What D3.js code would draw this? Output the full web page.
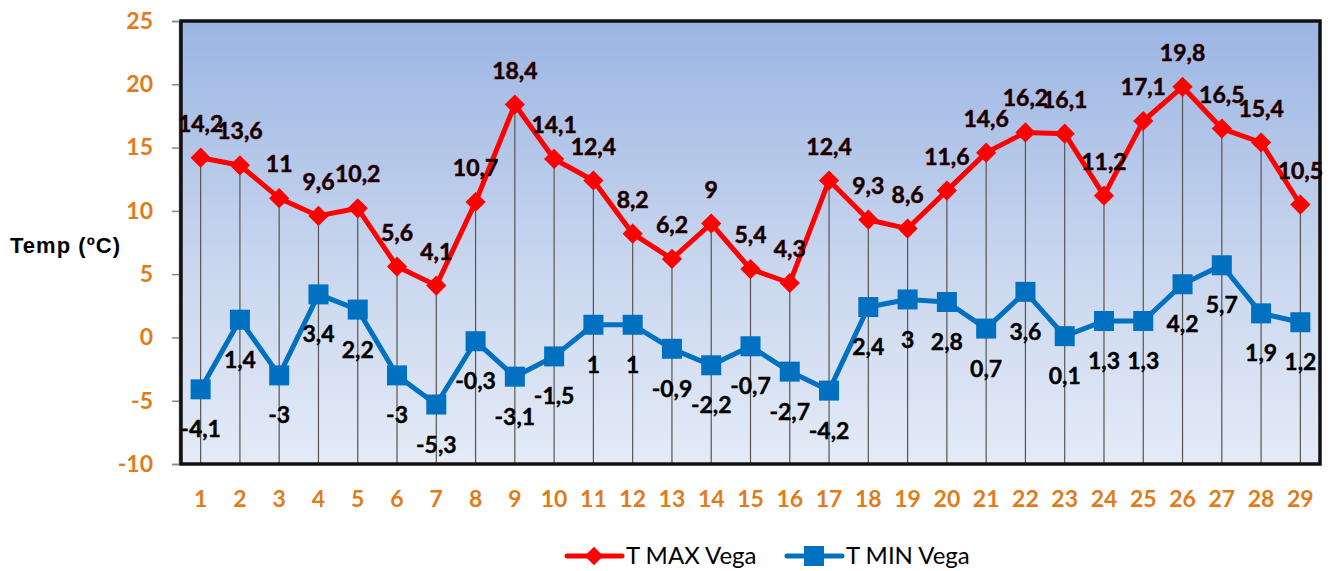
<!DOCTYPE html>
<html>
<head>
<meta charset="utf-8">
<script src="https://cdn.jsdelivr.net/npm/d3@7"></script>
<style>
  body { margin: 0; background: #fff; }
  svg text { font-family: Lato, "Open Sans", sans-serif; }
</style>
</head>
<body>
<div id="chart"></div>
<script>
const days = d3.range(1, 30).map(String);
const tMax = [14.2, 13.6, 11, 9.6, 10.2, 5.6, 4.1, 10.7, 18.4, 14.1, 12.4, 8.2, 6.2, 9, 5.4, 4.3, 12.4, 9.3, 8.6, 11.6, 14.6, 16.2, 16.1, 11.2, 17.1, 19.8, 16.5, 15.4, 10.5];
const tMin = [-4.1, 1.4, -3, 3.4, 2.2, -3, -5.3, -0.3, -3.1, -1.5, 1, 1, -0.9, -2.2, -0.7, -2.7, -4.2, 2.4, 3, 2.8, 0.7, 3.6, 0.1, 1.3, 1.3, 4.2, 5.7, 1.9, 1.2];
const yTicks = [-10, -5, 0, 5, 10, 15, 20, 25];
const seriesNames = ['T MAX Vega', 'T MIN Vega'];

(() => {
  const width = 1332;
  const height = 571;
  const margin = {top: 21, right: 12, bottom: 107, left: 181};

  const fmt = v => String(v).replace('.', ',');

  const xScale = d3.scaleBand()
    .domain(days)
    .range([margin.left, width - margin.right]);

  const yScale = d3.scaleLinear()
    .domain([-10, 25])
    .range([height - margin.bottom, margin.top]);

  const cx = (i) => xScale(days[i]) + xScale.bandwidth() / 2;

  const svg = d3.select('#chart')
    .append('svg')
    .attr('width', width)
    .attr('height', height);

  const defs = svg.append('defs');
  const grad = defs.append('linearGradient')
    .attr('id', 'bg').attr('x1', 0).attr('y1', 0).attr('x2', 0).attr('y2', 1);
  grad.append('stop').attr('offset', '0%').attr('stop-color', '#9bb5e3');
  grad.append('stop').attr('offset', '55%').attr('stop-color', '#c9d6ee');
  grad.append('stop').attr('offset', '100%').attr('stop-color', '#e4ebf7');

  const x0 = margin.left, x1 = width - margin.right;
  const y0 = margin.top, y1 = height - margin.bottom;

  // plot area
  svg.append('rect')
    .attr('x', x0).attr('y', y0)
    .attr('width', x1 - x0).attr('height', y1 - y0)
    .attr('fill', 'url(#bg)');

  // drop lines
  svg.append('g')
    .selectAll('line')
    .data(tMax)
    .join('line')
    .attr('x1', (d, i) => cx(i)).attr('x2', (d, i) => cx(i))
    .attr('y1', d => yScale(d)).attr('y2', y1)
    .attr('stroke', '#555')
    .attr('stroke-width', 1.2);

  // y axis
  const yAxis = svg.append('g')
    .attr('transform', `translate(${x0 - 2},0)`)
    .call(d3.axisLeft(yScale).tickValues(yTicks).tickFormat(d => String(d)).tickSize(7).tickPadding(19));
  yAxis.select('.domain').attr('stroke', '#888').attr('stroke-width', 1.5);
  yAxis.selectAll('.tick line').attr('stroke', '#888').attr('stroke-width', 1.5);
  yAxis.selectAll('.tick text')
    .attr('fill', '#e07b1a').attr('font-size', 23).attr('font-weight', 'bold')
    .style('font-family', 'Lato, sans-serif');

  // x axis
  const xAxis = svg.append('g')
    .attr('transform', `translate(0,${y1})`)
    .call(d3.axisBottom(xScale).tickSize(0).tickPadding(27));
  xAxis.select('.domain').remove();
  xAxis.selectAll('.tick text')
    .attr('fill', '#e07b1a').attr('font-size', 23).attr('font-weight', 'bold')
    .style('font-family', 'Lato, sans-serif');

  // border
  svg.append('rect')
    .attr('x', x0).attr('y', y0)
    .attr('width', x1 - x0).attr('height', y1 - y0)
    .attr('fill', 'none')
    .attr('stroke', '#111')
    .attr('stroke-width', 3.5);

  const line = d3.line()
    .x((d, i) => cx(i))
    .y(d => yScale(d));

  // min series
  svg.append('path')
    .attr('d', line(tMin))
    .attr('fill', 'none')
    .attr('stroke', '#0070c0')
    .attr('stroke-width', 5)
    .attr('stroke-linejoin', 'round');
  svg.append('g')
    .selectAll('rect')
    .data(tMin)
    .join('rect')
    .attr('x', (d, i) => cx(i) - 10)
    .attr('y', d => yScale(d) - 10)
    .attr('width', 20).attr('height', 20)
    .attr('fill', '#0070c0');

  // max series
  svg.append('path')
    .attr('d', line(tMax))
    .attr('fill', 'none')
    .attr('stroke', '#ff0000')
    .attr('stroke-width', 5)
    .attr('stroke-linejoin', 'round');
  const diamond = d3.symbol().type(d3.symbolDiamond2).size(260);
  svg.append('g')
    .selectAll('path')
    .data(tMax)
    .join('path')
    .attr('transform', (d, i) => `translate(${cx(i)},${yScale(d)})`)
    .attr('d', diamond)
    .attr('fill', '#ff0000');

  // data labels
  svg.append('g')
    .selectAll('text')
    .data(tMax)
    .join('text')
    .attr('x', (d, i) => cx(i))
    .attr('y', d => yScale(d) - 34)
    .attr('dy', '0.35em')
    .attr('text-anchor', 'middle')
    .attr('font-size', 23).attr('font-weight', 'bold')
    .attr('fill', '#000')
    .attr('stroke', '#500').attr('stroke-width', 0.6)
    .text(fmt);

  svg.append('g')
    .selectAll('text')
    .data(tMin)
    .join('text')
    .attr('x', (d, i) => cx(i))
    .attr('y', d => yScale(d) + 40)
    .attr('dy', '0.35em')
    .attr('text-anchor', 'middle')
    .attr('font-size', 23).attr('font-weight', 'bold')
    .attr('fill', '#000')
    .attr('stroke', '#000').attr('stroke-width', 0.4)
    .text(fmt);

  // axis title
  svg.append('text')
    .attr('x', 10).attr('y', 245)
    .attr('dy', '0.35em')
    .attr('font-size', 22).attr('font-weight', 'bold')
    .style('font-family', '"Liberation Sans", "DejaVu Sans", sans-serif')
    .attr('textLength', 110)
    .text('Temp (ºC)');

  // legend
  const legend = svg.append('g').attr('transform', 'translate(567,556)');
  const items = [
    {name: seriesNames[0], color: '#ff0000', x: 0, shape: 'diamond'},
    {name: seriesNames[1], color: '#0070c0', x: 220, shape: 'square'}
  ];
  items.forEach(it => {
    const g = legend.append('g').attr('transform', `translate(${it.x},0)`);
    g.append('line')
      .attr('x1', 0).attr('x2', 55)
      .attr('stroke', it.color).attr('stroke-width', 5).attr('stroke-linecap', 'round');
    if (it.shape === 'diamond') {
      g.append('path').attr('transform', 'translate(27,0)')
        .attr('d', d3.symbol().type(d3.symbolDiamond2).size(220)).attr('fill', it.color);
    } else {
      g.append('rect').attr('x', 17).attr('y', -10).attr('width', 20).attr('height', 20).attr('fill', it.color);
    }
    g.append('text')
      .attr('x', 59).attr('dy', '0.35em')
      .attr('font-size', 24)
      .attr('fill', '#000')
      .style('font-family', 'Lato, "Open Sans", sans-serif')
      .text(it.name);
  });
})();
</script>
</body>
</html>
